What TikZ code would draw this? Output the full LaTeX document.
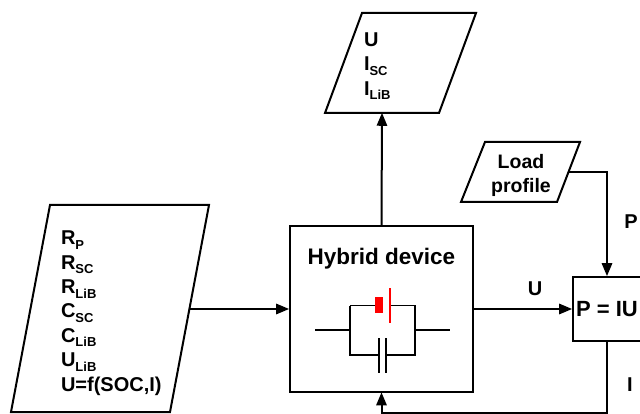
\documentclass[tikz,border=0pt]{standalone}
\usepackage{fontspec}
\setmainfont{Liberation Sans}
\usepackage{xcolor}
\usetikzlibrary{arrows}
\usetikzlibrary{calc}
\usetikzlibrary{positioning}
\newcommand{\lowtxt}[1]{\raisebox{-4.5pt}{\fontsize{13}{13}\selectfont #1}}

\begin{document}
\begin{tikzpicture}[-,>=triangle 45,x=1pt,y=-1pt,line width=2pt]
	\tikzstyle{block}=[draw, inner sep=0pt, font=\bfseries]
	\tikzstyle{para}=[draw, line join=miter]
	\tikzstyle{txt}=[inner sep=0pt, align=left, font=\fontsize{20}{24.4}\selectfont\bfseries]
	\tikzstyle{wire}=[line width=1.5pt]
	\useasboundingbox (0,0) rectangle (640,414);

	% blocks
	\node[block, minimum width=183pt, minimum height=165pt] (hybrid) at (381.5,309) {};
	\node[block, minimum width=68pt, minimum height=64pt, font=\fontsize{22}{24}\selectfont\bfseries] (pbox) at (607,309) {P = IU};
	\node[txt, font=\fontsize{22.5}{24}\selectfont\bfseries] (title) at (381.5,258.5) {Hybrid device};

	% parallelograms
	\draw[para] (50,205) -- (209,205) -- (170,412) -- (11,412) -- cycle;
	\draw[para] (362,13) -- (476,13) -- (439,113) -- (325,113) -- cycle;
	\draw[para] (485,142) -- (580,142) -- (557,202) -- (461,202) -- cycle;
	\coordinate (paramout) at (190,309);
	\coordinate (resultin) at (382,113);
	\coordinate (loadout) at (569,172);
	\coordinate (loop) at (607,413);

	\node[txt, anchor=north west] (params) at (60,230) {R\lowtxt{P}\\R\lowtxt{SC}\\R\lowtxt{LiB}\\C\lowtxt{SC}\\C\lowtxt{LiB}\\U\lowtxt{LiB}\\U=f(SOC,I)};
	\node[txt, anchor=north west] (result) at (363,31.5) {U\\I\lowtxt{SC}\\I\lowtxt{LiB}};
	\node[txt, align=center, font=\fontsize{19.5}{24}\selectfont\bfseries] (load) at (521,175) {Load\\profile};
	\node[txt] (ulabel) at (535,289) {U};
	\node[txt] (plabel) at (631,222) {P};
	\node[txt] (ilabel) at (630,385) {I};

	% connectors
	\path
		(paramout) edge[->] (hybrid.west)
		(hybrid.north) edge[->] (resultin)
		(hybrid.east) edge[->] (pbox.west);
	\draw[->] (loadout) -| (pbox.north);
	\draw[->] (pbox.south) |- (loop) -| (hybrid.south);

	% circuit
	\coordinate (cl) at (350,330);
	\coordinate (cr) at (415,330);
	\coordinate (ctl) at (350,305.5);
	\coordinate (ctr) at (415,305.5);
	\coordinate (cbl) at (350,355);
	\coordinate (cbr) at (415,355);
	\coordinate (inl) at (315,330);
	\coordinate (inr) at (450,330);
	\draw[wire] (inl) -- (cl);
	\draw[wire] (cr) -- (inr);
	\draw[wire] (ctl) -- (cbl) -- (379,355);
	\draw[wire] (ctl) -- (375,305.5);
	\draw[wire] (390,305.5) -- (ctr) -- (cbr) -- (386,355);
	\draw[line width=2pt] (379,338) -- (379,373);
	\draw[line width=2pt] (386,338) -- (386,373);
	\fill[red] (375,297) rectangle (383,313);
	\draw[red, line width=2pt] (390,288) -- (390,323);
\end{tikzpicture}
\end{document}
